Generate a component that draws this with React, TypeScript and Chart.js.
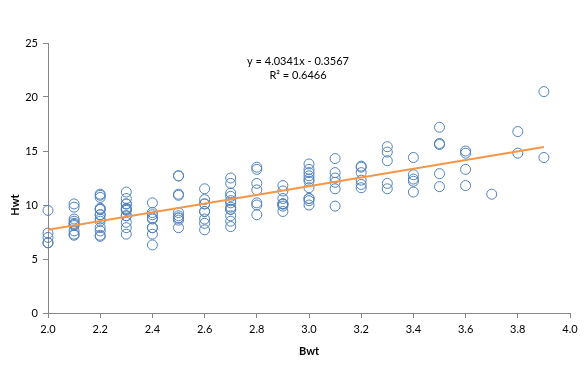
import React, { useEffect, useRef } from "react";
import { Chart, registerables } from "chart.js";

Chart.register(...registerables);

// Body weight (kg) and heart weight (g) of each cat
const BWT = [
  2.0, 2.0, 2.0,
  2.1, 2.1, 2.1, 2.1, 2.1, 2.1, 2.1, 2.1, 2.1,
  2.2, 2.2, 2.2, 2.2, 2.2, 2.2,
  2.3, 2.3, 2.3, 2.3, 2.3, 2.3, 2.3, 2.3, 2.3, 2.3, 2.3, 2.3,
  2.4, 2.4, 2.4, 2.4,
  2.5, 2.5,
  2.6, 2.6, 2.6,
  2.7, 2.7, 2.7,
  2.9, 2.9, 2.9,
  3.0, 3.0,
  2.0, 2.0,
  2.1,
  2.2, 2.2, 2.2, 2.2, 2.2, 2.2, 2.2, 2.2,
  2.3,
  2.4, 2.4, 2.4, 2.4, 2.4,
  2.5, 2.5, 2.5, 2.5, 2.5, 2.5, 2.5, 2.5,
  2.6, 2.6, 2.6, 2.6, 2.6, 2.6,
  2.7, 2.7, 2.7, 2.7, 2.7, 2.7, 2.7, 2.7, 2.7,
  2.8, 2.8, 2.8, 2.8, 2.8, 2.8, 2.8,
  2.9, 2.9, 2.9, 2.9, 2.9,
  3.0, 3.0, 3.0, 3.0, 3.0, 3.0, 3.0, 3.0, 3.0,
  3.1, 3.1, 3.1, 3.1, 3.1, 3.1,
  3.2, 3.2, 3.2, 3.2, 3.2, 3.2,
  3.3, 3.3, 3.3, 3.3, 3.3,
  3.4, 3.4, 3.4, 3.4, 3.4,
  3.5, 3.5, 3.5, 3.5, 3.5,
  3.6, 3.6, 3.6, 3.6,
  3.7,
  3.8, 3.8,
  3.9, 3.9,
];

const HWT = [
  7.0, 7.4, 9.5,
  7.2, 7.3, 7.6, 8.1, 8.2, 8.3, 8.5, 8.7, 9.8,
  7.1, 8.7, 9.1, 9.7, 10.9, 11.0,
  7.3, 7.9, 8.4, 9.0, 9.0, 9.5, 9.6, 9.7, 10.1, 10.1, 10.6, 11.2,
  6.3, 8.7, 8.8, 10.2,
  9.0, 10.9,
  8.7, 10.1, 10.1,
  8.5, 10.2, 10.8,
  9.9, 10.1, 10.1,
  10.6, 13.0,
  6.5, 6.5,
  10.1,
  7.2, 7.6, 7.9, 8.5, 9.1, 9.6, 9.6, 10.7,
  9.6,
  7.3, 7.9, 7.9, 9.1, 9.3,
  7.9, 8.6, 8.8, 8.8, 9.3, 11.0, 12.7, 12.7,
  7.7, 8.3, 9.4, 9.4, 10.5, 11.5,
  8.0, 9.0, 9.6, 9.6, 9.8, 10.4, 11.1, 12.0, 12.5,
  9.1, 10.0, 10.2, 11.4, 12.0, 13.3, 13.5,
  9.4, 10.1, 10.6, 11.3, 11.8,
  10.0, 10.4, 10.6, 11.6, 12.2, 12.4, 12.7, 13.3, 13.8,
  9.9, 11.5, 12.1, 12.5, 13.0, 14.3,
  11.6, 11.9, 12.3, 13.0, 13.5, 13.6,
  11.5, 12.0, 14.1, 14.9, 15.4,
  11.2, 12.2, 12.4, 12.8, 14.4,
  11.7, 12.9, 15.6, 15.7, 17.2,
  11.8, 13.3, 14.8, 15.0,
  11.0,
  14.8, 16.8,
  14.4, 20.5,
];

// Linear trendline
const SLOPE = 4.0341;
const INTERCEPT = -0.3567;
const TREND_X = [2.0, 3.9];
const EQUATION_LINES = ["y = 4.0341x - 0.3567", "R² = 0.6466"];

const X_TITLE = "Bwt";
const Y_TITLE = "Hwt";
const X_MIN = 2.0;
const X_MAX = 4.0;
const X_STEP = 0.2;
const Y_MIN = 0;
const Y_MAX = 25;
const Y_STEP = 5;

const FONT = "Lato, 'Open Sans', sans-serif";
const AXIS_COLOR = "#868686";

const annotationsPlugin = {
  id: "annotations",
  afterDraw(chart: any) {
    const ctx = chart.ctx;
    ctx.save();
    ctx.fillStyle = "#000";
    ctx.textAlign = "center";
    ctx.textBaseline = "middle";
    ctx.font = `11px ${FONT}`;
    ctx.fillText(EQUATION_LINES[0], 298, 61);
    ctx.fillText(EQUATION_LINES[1], 298, 75);
    // y-axis title
    ctx.font = `bold 11px ${FONT}`;
    ctx.translate(15, 205);
    ctx.rotate(-Math.PI / 2);
    ctx.fillText(Y_TITLE, 0, 0);
    ctx.restore();
  },
};

export default function App() {
  const ref = useRef<HTMLCanvasElement | null>(null);

  useEffect(() => {
    if (!ref.current) return;
    const points = BWT.map((x, i) => ({ x, y: HWT[i] }));
    const trend = TREND_X.map((x) => ({ x, y: SLOPE * x + INTERCEPT }));

    const chart = new Chart(ref.current, {
      type: "scatter",
      data: {
        datasets: [
          {
            type: "line",
            label: "Linear (Hwt)",
            data: trend,
            borderColor: "#F79646",
            borderWidth: 2,
            pointRadius: 0,
            fill: false,
            order: 0,
          } as any,
          {
            label: "Hwt",
            data: points,
            pointRadius: 5,
            pointBorderWidth: 1,
            pointBorderColor: "#4F81BD",
            pointBackgroundColor: "rgba(0,0,0,0)",
            clip: false,
            order: 1,
          } as any,
        ],
      },
      options: {
        animation: false,
        responsive: false,
        devicePixelRatio: 1,
        layout: { padding: { top: 43, right: 18, left: 0, bottom: 0 } },
        plugins: {
          legend: { display: false },
          tooltip: { enabled: false },
          title: { display: false },
        },
        scales: {
          x: {
            type: "linear",
            min: X_MIN,
            max: X_MAX,
            afterFit: (s: any) => {
              s.height = 53;
            },
            afterBuildTicks: (s: any) => {
              const t = [];
              for (let i = 0; i <= Math.round((X_MAX - X_MIN) / X_STEP); i++) {
                t.push({ value: +(X_MIN + i * X_STEP).toFixed(1) });
              }
              s.ticks = t;
            },
            ticks: {
              color: "#000",
              font: { family: FONT, size: 11 },
              padding: 5,
              maxRotation: 0,
              autoSkip: false,
              callback: (v: any) => Number(v).toFixed(1),
            },
            grid: {
              display: true,
              drawOnChartArea: false,
              drawTicks: true,
              tickLength: 5,
              color: AXIS_COLOR,
            },
            border: { display: true, color: AXIS_COLOR },
            title: {
              display: true,
              text: X_TITLE,
              color: "#000",
              font: { family: FONT, size: 11, weight: "bold" },
              padding: { top: 0, bottom: 8 },
            },
          },
          y: {
            type: "linear",
            min: Y_MIN,
            max: Y_MAX,
            afterFit: (s: any) => {
              s.width = 48;
            },
            ticks: {
              stepSize: Y_STEP,
              color: "#000",
              font: { family: FONT, size: 11 },
              padding: 5,
            },
            grid: {
              display: true,
              drawOnChartArea: false,
              drawTicks: true,
              tickLength: 5,
              color: AXIS_COLOR,
            },
            border: { display: true, color: AXIS_COLOR },
          },
        },
      },
      plugins: [annotationsPlugin],
    });

    return () => chart.destroy();
  }, []);

  return (
    <div style={{ position: "fixed", left: 0, top: 0, width: 588, height: 366, background: "#fff" }}>
      <canvas ref={ref} width={588} height={366} style={{ display: "block" }} />
    </div>
  );
}
